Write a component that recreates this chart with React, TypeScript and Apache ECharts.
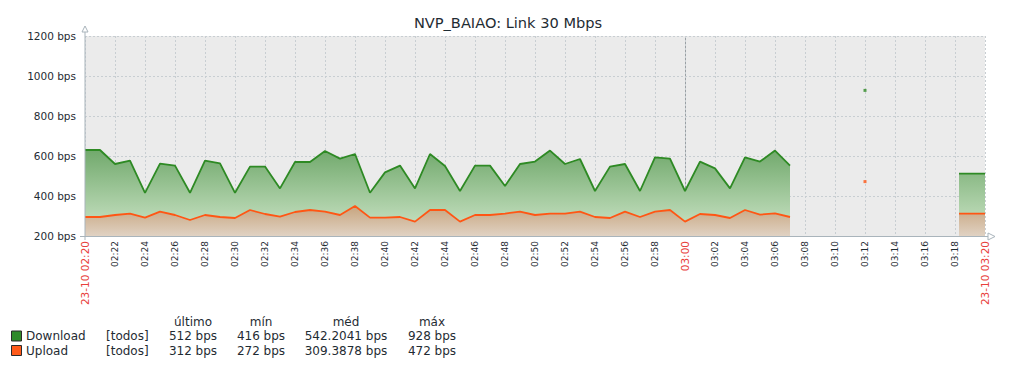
import React, { useEffect, useRef } from "react";
import * as echarts from "echarts";

const chartTitle = "NVP_BAIAO: Link 30 Mbps";
const startLabel = "23-10 02:20";
const endLabel = "23-10 03:20";
const redTicks = [0, 40, 60]; // minutes after 02:20 drawn in red

// one value per minute, 02:20 .. 03:07
const downloadMain = [
  630, 630, 560, 577, 416, 562, 552, 416, 577, 563,
  416, 547, 547, 438, 570, 570, 625, 587, 610, 416,
  518, 552, 438, 610, 550, 425, 552, 552, 450, 560,
  572, 627, 560, 585, 425, 547, 560, 425, 593, 587,
  425, 572, 538, 438, 593, 572, 627, 552,
];
const uploadMain = [
  295, 295, 305, 312, 292, 322, 305, 280, 305, 295,
  290, 330, 310, 297, 320, 330, 322, 305, 350, 292,
  292, 295, 272, 330, 330, 272, 305, 305, 312, 322,
  305, 312, 312, 322, 295, 290, 322, 295, 322, 330,
  272, 310, 305, 290, 330, 307, 313, 295,
];
// isolated sample
const isolatedTime = "03:12";
const downloadIsolated = 928;
const uploadIsolated = 472;
// last samples
const tailTimes = ["03:18:16", "03:20:00"];
const downloadTail = [512, 512];
const uploadTail = [312, 312];

const legendNames = ["Download", "Upload"];
const legendColors = ["#2f8a2a", "#ff5a1a"];
const legendHeaders = ["último", "mín", "méd", "máx"];
const legendScope = "[todos]";
const legendStats = [
  ["512 bps", "416 bps", "542.2041 bps", "928 bps"],
  ["312 bps", "272 bps", "309.3878 bps", "472 bps"],
];

const yTicks = { min: 200, max: 1200, step: 200 };

const FONT = "DejaVu Sans";
const TEXT = "#1f2c33";
const AXIS = "#a9b4bb";
const GRIDC = "#c8ced2";

function toMin(t: string): number {
  const p = t.split(":").map(Number);
  return (p[0] - 2) * 60 + p[1] - 20 + (p[2] || 0) / 60;
}
function fmt(m: number): string {
  const tot = 2 * 60 + 20 + m;
  const h = Math.floor(tot / 60);
  const mm = tot % 60;
  return String(h).padStart(2, "0") + ":" + String(mm).padStart(2, "0");
}

export default function App() {
  const ref = useRef<HTMLDivElement>(null);
  useEffect(() => {
    if (!ref.current) return;
    const chart = echarts.init(ref.current, undefined, { renderer: "svg" });

    const dl: any[] = downloadMain.map((v, i) => [i, v]);
    const ul: any[] = uploadMain.map((v, i) => [i, v]);
    dl.push([toMin(isolatedTime), "-"]);
    ul.push([toMin(isolatedTime), "-"]);
    tailTimes.forEach((t, i) => {
      dl.push([toMin(t), downloadTail[i]]);
      ul.push([toMin(t), uploadTail[i]]);
    });

    const gL = 85, gT = 36, gW = 900, gH = 200;
    const colX = [193, 261, 346, 432];

    const graphics: any[] = [
      // axis arrows
      {
        type: "polygon",
        shape: { points: [[gL - 3, gT - 4], [gL + 3, gT - 4], [gL, gT - 10]] },
        style: { fill: "#fff", stroke: AXIS, lineWidth: 1 },
        z: 100,
      },
      {
        type: "line",
        shape: { x1: gL, y1: gT - 4, x2: gL, y2: gT + gH + 4 },
        style: { stroke: AXIS, lineWidth: 1 },
        z: 99,
      },
      {
        type: "line",
        shape: { x1: gL - 5, y1: gT + gH + 0.5, x2: gL + gW + 3, y2: gT + gH + 0.5 },
        style: { stroke: AXIS, lineWidth: 1 },
        z: 99,
      },
      {
        type: "polygon",
        shape: {
          points: [[gL + gW + 3, gT + gH - 3], [gL + gW + 3, gT + gH + 4], [gL + gW + 10, gT + gH + 0.5]],
        },
        style: { fill: "#fff", stroke: AXIS, lineWidth: 1 },
        z: 100,
      },
    ];
    legendHeaders.forEach((h, i) => {
      graphics.push({
        type: "text",
        x: colX[i],
        y: 322,
        style: { text: h, font: `12px "${FONT}"`, fill: TEXT, align: "center", verticalAlign: "middle" },
      });
    });
    legendNames.forEach((n, r) => {
      const yc = 336 + r * 14.5;
      graphics.push({
        type: "rect",
        shape: { x: 11.5, y: yc - 5, width: 10, height: 10 },
        style: { fill: legendColors[r], stroke: "#2b2b2b", lineWidth: 1 },
      });
      graphics.push({
        type: "text",
        x: 26,
        y: yc,
        style: { text: n, font: `12px "${FONT}"`, fill: TEXT, align: "left", verticalAlign: "middle" },
      });
      graphics.push({
        type: "text",
        x: 106,
        y: yc,
        style: { text: legendScope, font: `12px "${FONT}"`, fill: TEXT, align: "left", verticalAlign: "middle" },
      });
      legendStats[r].forEach((s, i) => {
        graphics.push({
          type: "text",
          x: colX[i],
          y: yc,
          style: { text: s, font: `12px "${FONT}"`, fill: TEXT, align: "center", verticalAlign: "middle" },
        });
      });
    });

    const option: any = {
      animation: false,
      backgroundColor: "#ffffff",
      textStyle: { fontFamily: FONT },
      title: {
        text: chartTitle,
        left: "center",
        top: 10,
        textStyle: { fontFamily: FONT, fontSize: 14.6, fontWeight: "normal", color: TEXT },
      },
      grid: {
        left: gL,
        top: gT,
        width: gW,
        height: gH,
        show: true,
        backgroundColor: "#ebebeb",
        borderWidth: 0,
      },
      xAxis: {
        type: "value",
        min: 0,
        max: 60,
        interval: 2,
        axisLine: { show: false, onZero: false },
        axisTick: { show: false },
        splitLine: { show: true, lineStyle: { color: GRIDC, type: [2, 2], width: 1 } },
        axisLabel: {
          rotate: 90,
          margin: 5,
          fontSize: 9,
          fontFamily: FONT,
          color: TEXT,
          showMinLabel: true,
          showMaxLabel: true,
          formatter: (v: number) => {
            if (redTicks.includes(v)) {
              const t = v === 0 ? startLabel : v === 60 ? endLabel : fmt(v);
              return "{r|" + t + "}";
            }
            return fmt(v);
          },
          rich: { r: { color: "#e8403c", fontSize: 10.5, fontFamily: FONT } },
        },
      },
      yAxis: {
        type: "value",
        min: yTicks.min,
        max: yTicks.max,
        interval: yTicks.step,
        axisLine: { show: false },
        axisTick: { show: false },
        splitLine: { show: true, lineStyle: { color: GRIDC, type: [2, 2], width: 1 } },
        axisLabel: {
          margin: 9,
          fontSize: 10.5,
          fontFamily: FONT,
          color: TEXT,
          formatter: (v: number) => v + " bps",
        },
      },
      series: [
        {
          type: "line",
          name: "Download",
          data: dl,
          showSymbol: false,
          symbol: "none",
          connectNulls: false,
          lineStyle: { color: "#2e8a24", width: 1.8 },
          areaStyle: {
            origin: "start",
            opacity: 1,
            color: new echarts.graphic.LinearGradient(0, 140, 0, 236, [
              { offset: 0, color: "#66a261" },
              { offset: 1, color: "#cfe6ca" },
            ], true),
          },
          markLine: {
            silent: true,
            symbol: "none",
            label: { show: false },
            lineStyle: { color: "#9aa0a4", type: [2, 2], width: 1 },
            data: [{ xAxis: 40 }],
            z: 1,
          },
          z: 2,
        },
        {
          type: "line",
          name: "Upload",
          data: ul,
          showSymbol: false,
          symbol: "none",
          connectNulls: false,
          lineStyle: { color: "#ff5614", width: 1.8 },
          areaStyle: {
            origin: "start",
            opacity: 1,
            color: new echarts.graphic.LinearGradient(0, 200, 0, 236, [
              { offset: 0, color: "#c29b70" },
              { offset: 1, color: "#e0d2c3" },
            ], true),
          },
          z: 3,
        },
        {
          type: "scatter",
          data: [[toMin(isolatedTime), downloadIsolated]],
          symbol: "rect",
          symbolSize: 3,
          itemStyle: { color: "#2e8a24" },
          z: 4,
        },
        {
          type: "scatter",
          data: [[toMin(isolatedTime), uploadIsolated]],
          symbol: "rect",
          symbolSize: 3,
          itemStyle: { color: "#ff5614" },
          z: 4,
        },
      ],
      graphic: graphics,
    };
    chart.setOption(option);
    return () => chart.dispose();
  }, []);
  return (
    <div
      ref={ref}
      style={{ position: "fixed", left: 0, top: 0, width: 1016, height: 368 }}
    />
  );
}
